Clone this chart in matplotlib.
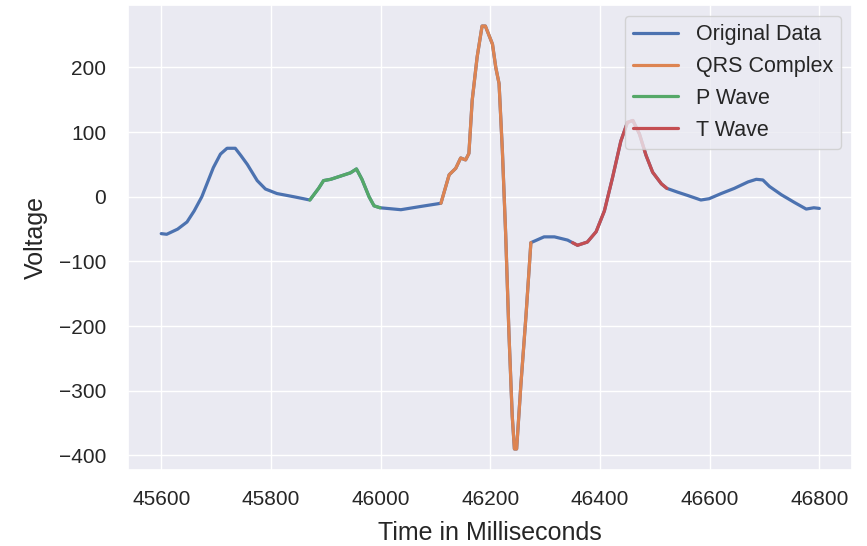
import numpy as np
import matplotlib
matplotlib.use("Agg")
import matplotlib.pyplot as plt
import seaborn as sns

# ECG trace (ms, voltage)
time_ms = [45600, 45610, 45630, 45647, 45660, 45674, 45695, 45708, 45720, 45735,
           45745, 45757, 45775, 45790, 45811, 45842, 45871, 45887, 45896, 45909,
           45927, 45945, 45956, 45966, 45979, 45988, 45999, 46037, 46073, 46103,
           46110, 46125, 46137, 46146, 46155, 46161, 46167, 46176, 46185, 46191,
           46204, 46210, 46216, 46222, 46228, 46234, 46240, 46244, 46248, 46256,
           46265, 46274, 46298, 46317, 46341, 46350, 46359, 46377, 46393, 46408,
           46423, 46438, 46450, 46460, 46472, 46484, 46496, 46512, 46522, 46542,
           46560, 46584, 46599, 46621, 46645, 46670, 46685, 46697, 46709, 46731,
           46755, 46776, 46790, 46800]
voltage = [-57, -58, -50, -39, -22, 0, 45, 66, 75, 75,
           64, 50, 25, 12, 5, 0, -5, 13, 25, 27,
           32, 37, 43, 27, 0, -14, -17, -20, -15, -11,
           -10, 34, 44, 60, 57, 67, 149, 216, 264, 264,
           236, 200, 175, 72, -57, -211, -339, -390, -390, -288,
           -185, -71, -62, -62, -67, -71, -75, -70, -54, -22,
           30, 86, 115, 118, 97, 64, 38, 20, 13, 7,
           2, -5, -3, 5, 13, 23, 27, 26, 16, 3,
           -9, -19, -17, -18]

# wave windows (ms)
qrs_window = (46110, 46274)
p_window = (45871, 45999)
t_window = (46350, 46522)

sns.set_theme(style="darkgrid")
plt.rcParams['font.family'] = ['Liberation Sans', 'DejaVu Sans']

t = np.array(time_ms)
v = np.array(voltage)

fig, ax = plt.subplots(figsize=(8.67, 5.46), dpi=100)
ax.plot(t, v, color='C0', lw=2.3, label='Original Data')
for (lo, hi), col, name in [(qrs_window, 'C1', 'QRS Complex'),
                            (p_window, 'C2', 'P Wave'),
                            (t_window, 'C3', 'T Wave')]:
    m = (t >= lo) & (t <= hi)
    ax.plot(t[m], v[m], color=col, lw=2.3, label=name)

ax.set_xlabel('Time in Milliseconds', fontsize=18, labelpad=9)
ax.set_ylabel('Voltage', fontsize=18, labelpad=8)
ax.set_xticks([45600, 45800, 46000, 46200, 46400, 46600, 46800])
ax.tick_params(labelsize=15)
ax.tick_params(axis='x', pad=8)
ax.tick_params(axis='y', pad=10)
ax.legend(loc='upper right', fontsize=15.5, handlelength=2.1)
fig.subplots_adjust(left=0.148, right=0.983, top=0.991, bottom=0.139)
fig.savefig('out.png')
